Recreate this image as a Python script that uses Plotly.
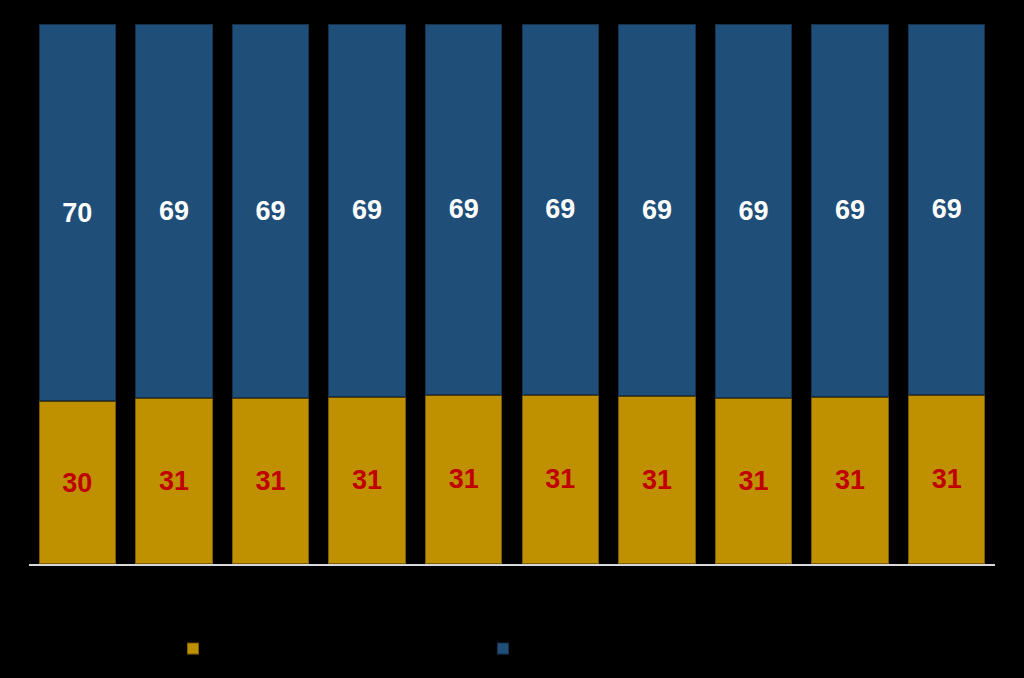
import plotly.graph_objects as go

categories = ["1", "2", "3", "4", "5", "6", "7", "8", "9", "10"]
bottom_vals = [30.1, 30.7, 30.7, 31.0, 31.3, 31.3, 31.2, 30.7, 31.0, 31.3]
top_vals = [69.9, 69.3, 69.3, 69.0, 68.7, 68.7, 68.8, 69.3, 69.0, 68.7]
series_names = ["Series 1", "Series 2"]

GOLD = "#BF9000"
BLUE = "#1F4E79"

fig = go.Figure()
fig.add_trace(go.Bar(
    x=categories, y=bottom_vals, name=series_names[0],
    marker=dict(color=GOLD, line=dict(color="rgba(0,0,0,0.35)", width=2)),
    texttemplate="%{y:.0f}", textposition="inside", insidetextanchor="middle",
    textfont=dict(color="#C00000", size=27, family="Liberation Sans, Arial", weight="bold"),
    textangle=0,
))
fig.add_trace(go.Bar(
    x=categories, y=top_vals, name=series_names[1],
    marker=dict(color=BLUE, line=dict(color="rgba(0,0,0,0.35)", width=2)),
    texttemplate="%{y:.0f}", textposition="inside", insidetextanchor="middle",
    textfont=dict(color="white", size=27, family="Liberation Sans, Arial", weight="bold"),
    textangle=0,
))

fig.update_layout(
    width=1024, height=678,
    barmode="stack", bargap=0.2,
    paper_bgcolor="black", plot_bgcolor="black",
    margin=dict(l=29, r=29, t=24, b=114),
    showlegend=True,
    legend=dict(
        orientation="h", x=(173 - 29) / 966, xanchor="left",
        y=-(649 - 564) / 540, yanchor="middle",
        entrywidth=265, entrywidthmode="pixels",
        font=dict(color="black", size=14),
        bgcolor="rgba(0,0,0,0)", traceorder="normal",
    ),
    uniformtext=dict(mode=False),
)
fig.update_xaxes(showline=True, linecolor="#D9D9D9", linewidth=1.5,
                 showticklabels=False, ticks="", showgrid=False, zeroline=False)
fig.update_yaxes(range=[0, 100], visible=False, showgrid=False, zeroline=False)

fig.write_html("out.html")
